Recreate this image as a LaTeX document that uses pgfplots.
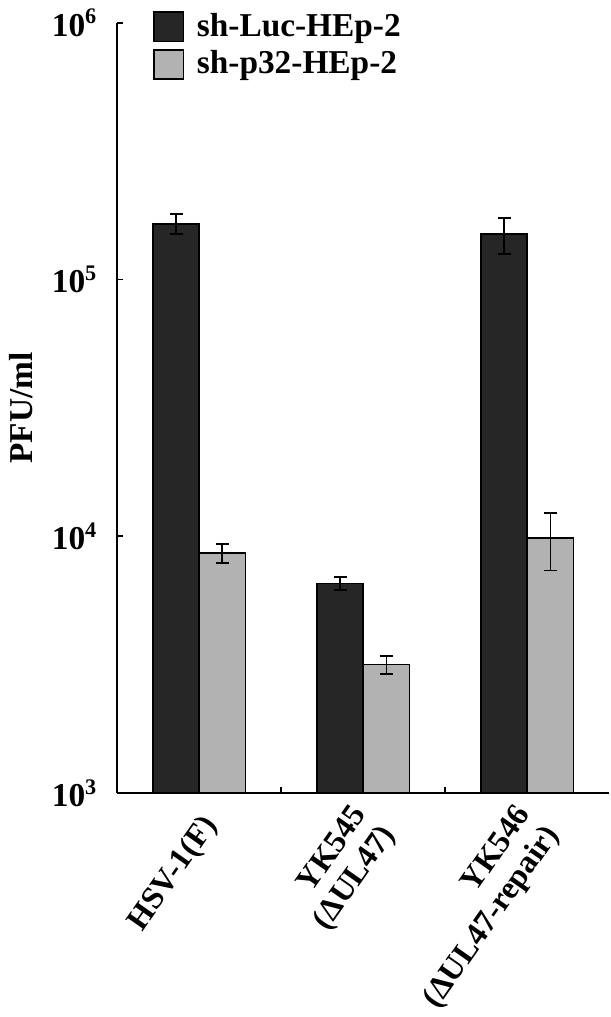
\documentclass[border=0pt]{standalone}
\usepackage{fontspec}
\setmainfont{Liberation Serif}
\usepackage{pgfplots}
\pgfplotsset{compat=1.18}
\definecolor{darkbar}{RGB}{38,38,38}
\definecolor{lightbar}{RGB}{178,178,178}
\newcommand{\bigbf}{\fontsize{12}{13}\selectfont\bfseries}
\newcommand{\labbf}{\fontsize{11.5}{12.5}\selectfont\bfseries}

% PFU/ml, mean and error, categories at 0,1,2
\pgfplotstableread{
x y e
0 165000 15000
1 6550 370
2 150000 24000
}\lucdata
\pgfplotstableread{
x y e
0 8600 750
1 3160 255
2 9850 2500
}\pdata

\begin{document}
\begin{tikzpicture}
\begin{axis}[
  scale only axis,
  width=177pt, height=277pt,
  ymode=log, ymin=1000, ymax=1000000, log origin=infty,
  xmin=-0.5, xmax=2.5,
  axis x line*=bottom, axis y line*=left,
  axis line style={line width=0.6pt},
  ybar=0pt, bar width=16.6pt,
  tick align=inside, major tick length=2.2pt,
  tick style={black, line width=0.6pt},
  minor y tick style={draw=none},
  every tick label/.append style={font=\bigbf},
  xtick={0.5,1.5}, xticklabels={},
  extra x ticks={0,1,2},
  extra x tick labels={HSV-1(F), YK545\\(ΔUL47), YK546\\(ΔUL47-repair)},
  extra x tick style={major tick length=0pt,
    tick label style={yshift=-9pt, xshift=5pt, rotate=55, anchor=east,
      align=right, inner sep=1pt, font=\labbf}},
  ytick={1000,10000,100000,1000000},
  yticklabels={10\textsuperscript{3}, 10\textsuperscript{4},
               10\textsuperscript{5}, 10\textsuperscript{6}},
  yticklabel style={xshift=-3.5pt},
  ylabel={PFU/ml},
  ylabel style={font=\bigbf},
  legend style={at={(0.072,1.016)}, anchor=north west, draw=none, fill=none,
    inner sep=0pt, font=\bigbf, row sep=2.4pt, nodes={inner sep=0.6pt}},
  legend cell align=left,
  legend image code/.code={
    \draw[#1] (0pt,-5.3pt) rectangle (10.6pt,5.3pt);
    \path (14.5pt,0pt);},
]
\addplot[fill=darkbar, draw=black, line width=0.6pt,
  error bars/.cd, y dir=both, y explicit,
  error bar style={black, line width=0.6pt},
  error mark options={rotate=90, mark size=2.3pt, line width=0.6pt}]
  table[x=x, y=y, y error=e]{\lucdata};
\addplot[fill=lightbar, draw=black, line width=0.6pt,
  error bars/.cd, y dir=both, y explicit,
  error bar style={black, line width=0.6pt},
  error mark options={rotate=90, mark size=2.3pt, line width=0.6pt}]
  table[x=x, y=y, y error=e]{\pdata};
\legend{sh-Luc-HEp-2, sh-p32-HEp-2}
\end{axis}
\end{tikzpicture}
\end{document}
